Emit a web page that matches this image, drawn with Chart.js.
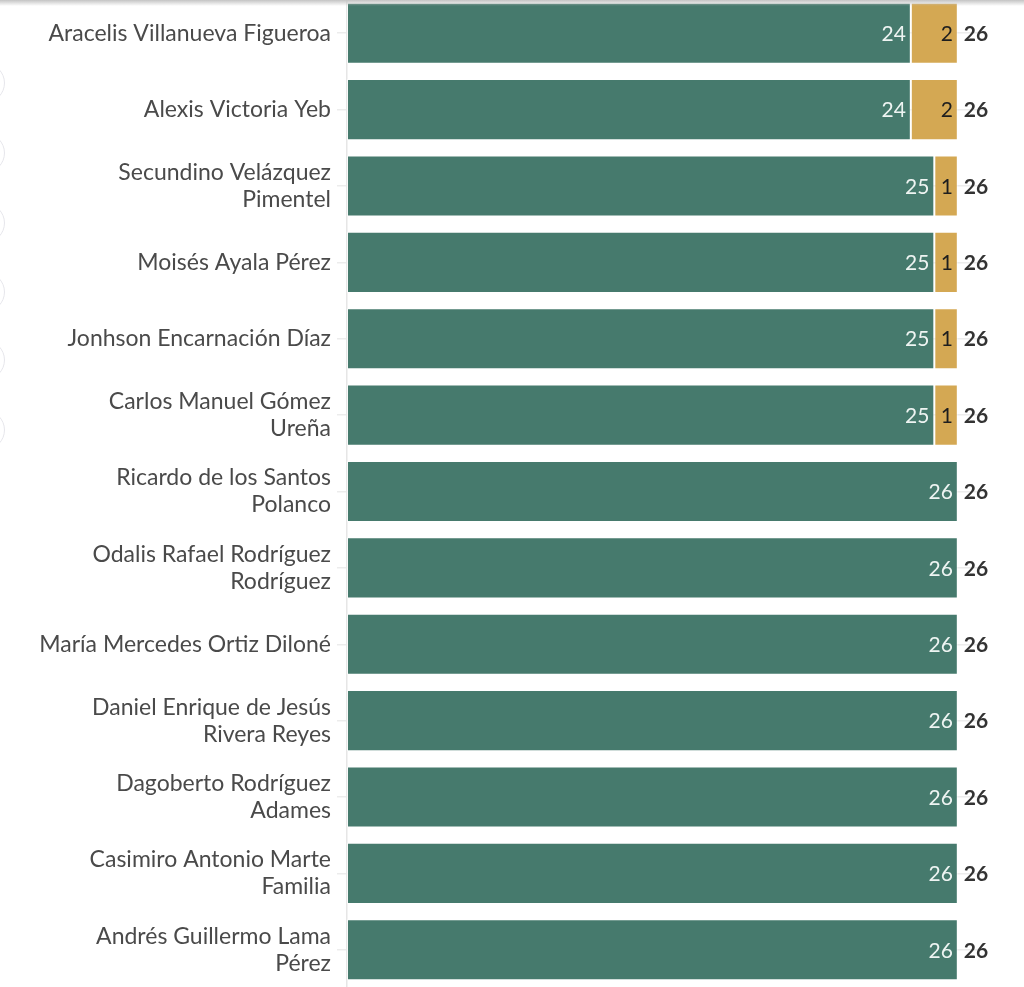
<!DOCTYPE html>
<html>
<head>
<meta charset="utf-8">
<script src="https://cdn.jsdelivr.net/npm/chart.js@4.4.0/dist/chart.umd.min.js"></script>
<style>
  html, body { margin: 0; padding: 0; background: #fff; overflow: hidden; }
  body { width: 1024px; height: 987px; position: relative; }
  #wrap { position: absolute; left: 0; top: -5px; width: 1024px; height: 993px; }
  .dot { position: absolute; left: -35px; width: 38px; height: 38px; border: 1.5px solid #e6e6eb; border-radius: 50%; background: #fff; z-index: 2; }
  #shadow { position: absolute; left: 0; top: 0; width: 1024px; height: 6px; background: linear-gradient(#c4c4c4, rgba(255,255,255,0)); z-index: 3; }
</style>
</head>
<body>
<div id="shadow"></div>
<div class="dot" style="top:63px"></div>
<div class="dot" style="top:133px"></div>
<div class="dot" style="top:203px"></div>
<div class="dot" style="top:272px"></div>
<div class="dot" style="top:340px"></div>
<div class="dot" style="top:410px"></div>
<div id="wrap"><canvas id="c"></canvas></div>
<script>
const categories = [
  ["Aracelis Villanueva Figueroa"],
  ["Alexis Victoria Yeb"],
  ["Secundino Velázquez", "Pimentel"],
  ["Moisés Ayala Pérez"],
  ["Jonhson Encarnación Díaz"],
  ["Carlos Manuel Gómez", "Ureña"],
  ["Ricardo de los Santos", "Polanco"],
  ["Odalis Rafael Rodríguez", "Rodríguez"],
  ["María Mercedes Ortiz Diloné"],
  ["Daniel Enrique de Jesús", "Rivera Reyes"],
  ["Dagoberto Rodríguez", "Adames"],
  ["Casimiro Antonio Marte", "Familia"],
  ["Andrés Guillermo Lama", "Pérez"]
];
const seriesA = [24, 24, 25, 25, 25, 25, 26, 26, 26, 26, 26, 26, 26];
const seriesB = [2, 2, 1, 1, 1, 1, 0, 0, 0, 0, 0, 0, 0];

const FONT = "Lato, 'Source Sans Pro', 'Noto Sans', sans-serif";

const labelPlugin = {
  id: 'barLabels',
  afterDatasetsDraw(chart) {
    const ctx = chart.ctx;
    ctx.save();
    ctx.textBaseline = 'middle';
    chart.data.datasets.forEach((ds, di) => {
      const meta = chart.getDatasetMeta(di);
      meta.data.forEach((bar, i) => {
        const v = ds.data[i];
        if (!v) return;
        ctx.font = "21px " + FONT;
        ctx.textAlign = 'right';
        ctx.fillStyle = di === 0 ? '#eef4f2' : '#1e1e1e';
        ctx.fillText(String(v), bar.x - 5, bar.y + 1);
      });
    });
    const xs = chart.scales.x;
    const meta0 = chart.getDatasetMeta(0);
    meta0.data.forEach((bar, i) => {
      const total = seriesA[i] + seriesB[i];
      ctx.font = "bold 21px " + FONT;
      ctx.textAlign = 'left';
      ctx.fillStyle = '#333333';
      ctx.fillText(String(total), xs.getPixelForValue(total) + 6, bar.y + 1);
    });
    ctx.restore();
  }
};

new Chart(document.getElementById('c'), {
  type: 'bar',
  data: {
    labels: categories,
    datasets: [
      { data: seriesA, backgroundColor: '#467a6d', borderColor: 'rgba(255,255,255,0.55)', borderWidth: 1, borderSkipped: false, barPercentage: 0.8, categoryPercentage: 1 },
      { data: seriesB, backgroundColor: '#d4a853', borderColor: 'rgba(255,255,255,0.55)', borderWidth: 1, borderSkipped: false, barPercentage: 0.8, categoryPercentage: 1 }
    ]
  },
  options: {
    indexAxis: 'y',
    responsive: true,
    maintainAspectRatio: false,
    animation: false,
    layout: { padding: { left: 0, right: 38, top: 0, bottom: 0 } },
    plugins: { legend: { display: false }, tooltip: { enabled: false } },
    scales: {
      x: { stacked: true, display: false, min: 0, max: 27.2 },
      y: {
        stacked: true,
        afterFit(scale) { scale.width = 347; scale.paddingTop = 0; scale.paddingBottom = 0; },
        grid: { offset: false, color: '#ececec', lineWidth: 1.5, tickLength: 10, drawOnChartArea: true },
        border: { display: true, color: '#e6e6e6', width: 1.5 },
        ticks: {
          color: '#4a4a4a',
          padding: 6,
          font: { family: FONT, size: 23, lineHeight: 1.17 }
        }
      }
    }
  },
  plugins: [labelPlugin]
});
</script>
</body>
</html>
